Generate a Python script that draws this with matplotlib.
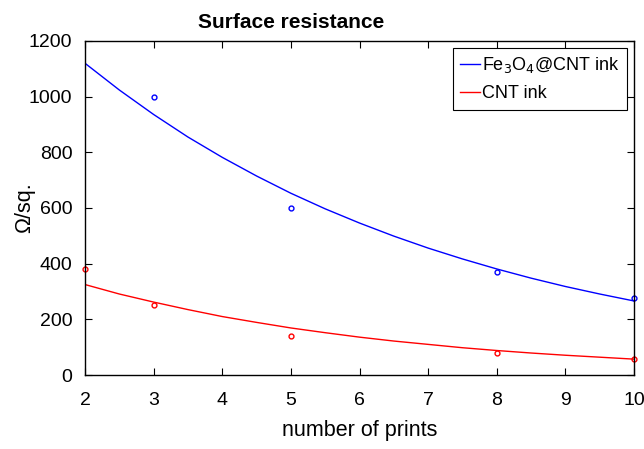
import matplotlib
matplotlib.use("Agg")
import matplotlib.pyplot as plt

plt.rcParams['font.family'] = ['Liberation Sans', 'DejaVu Sans']

# measured points
fe_x = [3, 5, 8, 10]
fe_y = [1000, 600, 370, 275]
cnt_x = [2, 3, 5, 8, 10]
cnt_y = [380, 250, 140, 80, 58]

# fitted curves
fit_x = [2, 2.5, 3, 3.5, 4, 4.5, 5, 5.5, 6, 6.5, 7, 7.5, 8, 8.5, 9, 9.5, 10]
fe_fit = [1120, 1024, 936, 855, 782, 715, 653, 597, 546, 499, 456, 417, 381, 348, 318, 291, 266]
cnt_fit = [325, 291, 262, 235, 210, 189, 169, 152, 136, 122, 110, 98, 88, 79, 71, 64, 57]

x_ticks = [2, 3, 4, 5, 6, 7, 8, 9, 10]
y_ticks = [0, 200, 400, 600, 800, 1000, 1200]

fig = plt.figure(figsize=(6.44, 4.49), dpi=100)
ax = fig.add_axes([85/644, 1 - 375/449, 549/644, 334/449])

ax.plot(fit_x, fe_fit, color='#0000ff', lw=1, label=r'Fe$_3$O$_4$@CNT ink')
ax.plot(fit_x, cnt_fit, color='#ff0000', lw=1, label='CNT ink')
ax.plot(fe_x, fe_y, 'o', color='#0000ff', mfc='none', ms=3.5, mew=1, clip_on=False)
ax.plot(cnt_x, cnt_y, 'o', color='#ff0000', mfc='none', ms=3.5, mew=1, clip_on=False)

ax.set_xlim(2, 10)
ax.set_ylim(0, 1200)
ax.set_xticks(x_ticks)
ax.set_yticks(y_ticks)
ax.tick_params(direction='in', top=True, right=True, length=5, labelsize=14, pad=9)
ax.tick_params(axis='x', pad=12)
for s in ax.spines.values():
    s.set_linewidth(1)

ax.set_xlabel('number of prints', fontsize=15.5)
ax.xaxis.set_label_coords(0.5, -0.135)
ax.set_ylabel('Ω/sq.', fontsize=15.5)
ax.yaxis.set_label_coords(-0.09, 0.5)
fig.text(291/644, 1 - 22/449, 'Surface resistance', ha='center', va='center',
         fontsize=15, fontweight='bold')

leg = ax.legend(loc='upper right', fontsize=13, handlelength=1.1, handletextpad=0.1,
                borderaxespad=0.4, fancybox=False, edgecolor='black', framealpha=1,
                borderpad=0.4, labelspacing=0.55)
leg.get_frame().set_linewidth(0.8)

fig.savefig('out.png', dpi=100)
